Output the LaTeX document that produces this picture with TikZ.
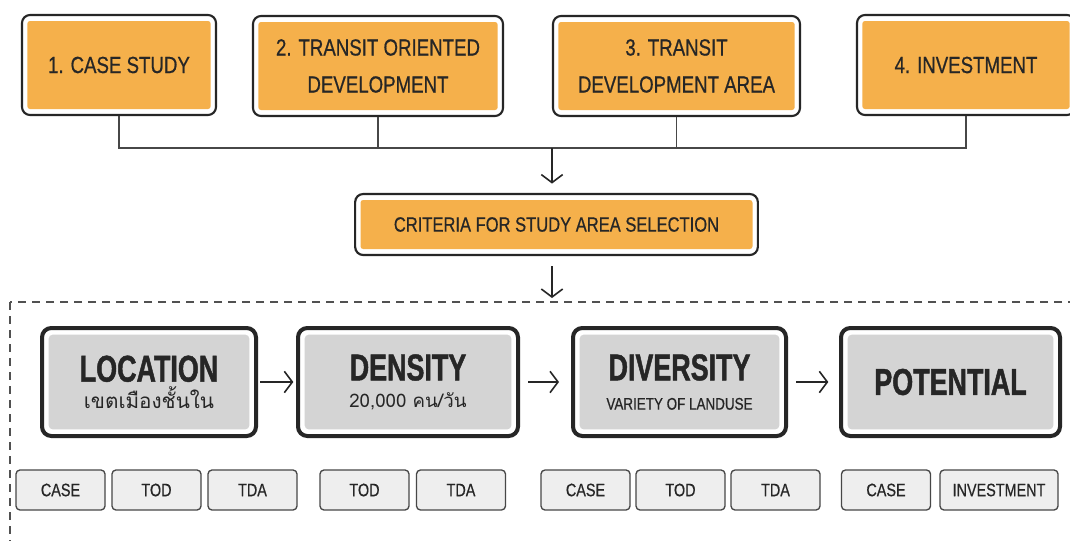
\documentclass[tikz,border=0pt]{standalone}
\usepackage{fontspec}
\setmainfont{Liberation Sans}
\newfontfamily\condfont{Liberation Sans}[FakeStretch=0.8, FakeBold=0.6]
\newfontfamily\headfont{Liberation Sans}[FakeStretch=0.72, FakeBold=1.2]
\newfontfamily\thaifont[Script=Thai]{Loma}
\newcommand{\critname}[1]{{\headfont\bfseries\fontsize{28}{30}\selectfont #1}}
\usetikzlibrary{positioning, arrows.meta, calc}
\definecolor{boxorange}{HTML}{F5B04B}
\definecolor{boxgray}{HTML}{D4D4D4}
\definecolor{tagfill}{HTML}{EEEEEE}
\definecolor{inkdark}{HTML}{262626}
\tikzset{
    % Orange step boxes: white margin inside a dark rounded frame
    topbox/.style={rectangle, draw=inkdark, line width=1.6pt, rounded corners=6pt,
                   fill=white, minimum height=75pt, align=center, text=inkdark,
                   font=\condfont\fontsize{17.5}{27.75}\selectfont,
                   path picture={\fill[boxorange, rounded corners=2pt]
                       ([shift={(4pt,-4.5pt)}]path picture bounding box.north west) rectangle
                       ([shift={(-4pt,4.5pt)}]path picture bounding box.south east);}},
    % Grey criteria boxes
    critbox/.style={rectangle, draw=inkdark, line width=3pt, rounded corners=7pt,
                    fill=white, minimum height=81pt, align=center, text=inkdark,
                    font=\fontsize{12}{20}\selectfont,
                    path picture={\fill[boxgray, rounded corners=3pt]
                        ([shift={(5pt,-5pt)}]path picture bounding box.north west) rectangle
                        ([shift={(-5pt,5pt)}]path picture bounding box.south east);}},
    % Small tags below
    tag/.style={rectangle, draw=inkdark!85, line width=1pt, rounded corners=3pt,
                fill=tagfill, minimum height=30pt, minimum width=66.75pt, text=inkdark,
                font=\condfont\fontsize{13.5}{16}\selectfont},
    arrow/.style={-{Straight Barb[length=6pt, width=16pt, line width=1.2pt]},
                  line width=1.2pt, draw=inkdark},
    link/.style={line width=0.9pt, draw=inkdark!85},
}

\begin{document}
\begin{tikzpicture}[x=0.75pt, y=-0.75pt]
    \clip (0,0) rectangle (1070,540);
    \fill[white] (0,0) rectangle (1070,540);

    % Study topics
    \node[topbox, minimum width=145.5pt] (case) at (119,65) {1. CASE STUDY};
    \node[topbox, minimum width=187.5pt] (tod) at (378,66) {2. TRANSIT ORIENTED\\DEVELOPMENT};
    \node[topbox, minimum width=185.25pt] (tda) at (676.5,66) {3. TRANSIT\\DEVELOPMENT AREA};
    \node[topbox, minimum width=163.5pt] (invest) at (966,65) {4. INVESTMENT};

    % Selection criteria
    \node[topbox, minimum width=302pt, minimum height=45.75pt,
          font=\condfont\fontsize{15.5}{18}\selectfont] (criteria) at (556.5,224.5)
          {CRITERIA FOR STUDY AREA SELECTION};

    % Join lines
    \coordinate (join) at (552,148);
    \draw[link] (case.south) |- (join);
    \draw[link] (tod.south) |- (join);
    \draw[link] (tda.south) |- (join);
    \draw[link] (invest.south) |- (join);
    \draw[arrow, shorten >=7pt] (join) -- (join |- criteria.north);

    % Dashed frame
    \coordinate (frametop) at (552,302);
    \draw[inkdark!80, line width=0.8pt, dash pattern=on 6pt off 4.5pt]
        (10,302) rectangle (1090,560);
    \draw[arrow, shorten <=7.5pt, shorten >=3pt] (criteria.south -| frametop) -- (frametop);

    % Criteria chain
    \node[critbox, minimum width=160.5pt] (location) at (149,382)
        {\critname{LOCATION}\\{\thaifont\fontsize{15.5}{18}\selectfont เขตเมืองชั้นใน}};
    \node[critbox, minimum width=165pt] (density) at (408,382)
        {\critname{DENSITY}\\{\thaifont\fontsize{14}{18}\selectfont 20,000 คน/วัน}};
    \node[critbox, minimum width=159.75pt, font=\fontsize{12}{22}\selectfont] (diversity) at (679.5,382)
        {\critname{DIVERSITY}\\{\condfont\fontsize{12.6}{15}\selectfont VARIETY OF LANDUSE}};
    \node[critbox, minimum width=164.25pt] (potential) at (950.5,382) {\critname{POTENTIAL}};

    \draw[arrow, shorten <=1.5pt, shorten >=2pt] (location) -- (density);
    \draw[arrow, shorten <=6pt, shorten >=9pt] (density) -- (diversity);
    \draw[arrow, shorten <=6pt, shorten >=8pt] (diversity) -- (potential);

    % Sources for each criterion
    \node[tag] (locCase) at (60.5,490) {CASE};
    \node[tag] (locTod) at (156.5,490) {TOD};
    \node[tag] (locTda) at (252.5,490) {TDA};
    \node[tag] (denTod) at (364.5,490) {TOD};
    \node[tag] (denTda) at (461,490) {TDA};
    \node[tag] (divCase) at (585.5,490) {CASE};
    \node[tag] (divTod) at (680.5,490) {TOD};
    \node[tag] (divTda) at (775.5,490) {TDA};
    \node[tag] (potCase) at (886,490) {CASE};
    \node[tag, minimum width=88.5pt] (potInvest) at (999,490) {INVESTMENT};
\end{tikzpicture}
\end{document}
